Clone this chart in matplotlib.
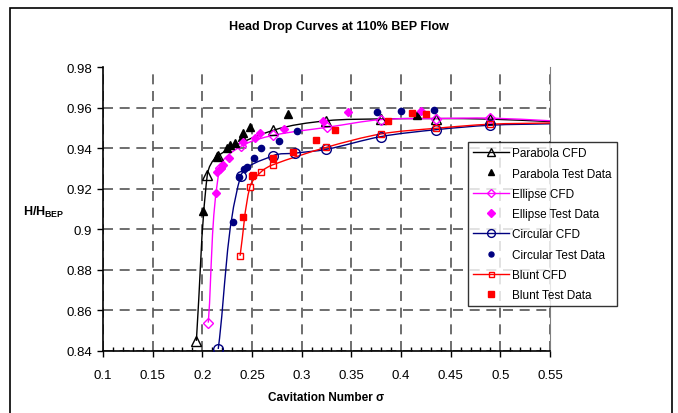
import matplotlib
matplotlib.use("Agg")
import matplotlib.pyplot as plt
from matplotlib.path import Path
from matplotlib.patches import PathPatch, Rectangle
from matplotlib.lines import Line2D
from matplotlib.ticker import MultipleLocator

plt.rcParams['font.family'] = ['Liberation Sans', 'DejaVu Sans']
plt.rcParams['mathtext.fontset'] = 'custom'
plt.rcParams['mathtext.rm'] = 'Liberation Sans'
plt.rcParams['mathtext.bf'] = 'Liberation Sans:bold'

# CFD curves (last point only carries the line to the axis edge)
parabola_cfd_x = [0.194, 0.205, 0.216, 0.2715, 0.325, 0.380, 0.4355, 0.490, 0.55]
parabola_cfd_y = [0.845, 0.927, 0.9365, 0.949, 0.9537, 0.9546, 0.9548, 0.9545, 0.9533]
ellipse_cfd_x = [0.206, 0.2175, 0.2385, 0.2715, 0.326, 0.380, 0.4355, 0.490, 0.55]
ellipse_cfd_y = [0.854, 0.9305, 0.941, 0.9465, 0.9505, 0.9543, 0.9548, 0.9550, 0.9537]
circular_cfd_x = [0.216, 0.2385, 0.2715, 0.293, 0.325, 0.380, 0.4355, 0.490, 0.55]
circular_cfd_y = [0.841, 0.9262, 0.9365, 0.9377, 0.9396, 0.9459, 0.9493, 0.9515, 0.9522]
blunt_cfd_x = [0.238, 0.248, 0.2595, 0.2707, 0.325, 0.380, 0.4356, 0.490, 0.55]
blunt_cfd_y = [0.887, 0.9212, 0.9286, 0.9319, 0.9406, 0.9472, 0.950, 0.952, 0.9526]

# test data
parabola_test_x = [0.201, 0.215, 0.2244, 0.228, 0.233, 0.2398, 0.241, 0.248, 0.2865, 0.416]
parabola_test_y = [0.909, 0.9365, 0.940, 0.9417, 0.9425, 0.9458, 0.9476, 0.9505, 0.957, 0.9566]
ellipse_test_x = [0.214, 0.215, 0.2185, 0.2205, 0.2267, 0.2405, 0.253, 0.258, 0.2825, 0.321, 0.3467, 0.4205]
ellipse_test_y = [0.918, 0.9285, 0.9305, 0.932, 0.9355, 0.943, 0.945, 0.9475, 0.9494, 0.9537, 0.958, 0.9585]
circular_test_x = [0.2305, 0.237, 0.242, 0.2445, 0.252, 0.2586, 0.2775, 0.2955, 0.3755, 0.3995, 0.433]
circular_test_y = [0.9036, 0.926, 0.930, 0.931, 0.9355, 0.9403, 0.9436, 0.9488, 0.9582, 0.9587, 0.9592]
blunt_test_x = [0.2405, 0.2495, 0.2515, 0.2713, 0.2915, 0.314, 0.334, 0.387, 0.411, 0.4255]
blunt_test_y = [0.906, 0.9266, 0.927, 0.9352, 0.9385, 0.9442, 0.9492, 0.9535, 0.9575, 0.957]

# pixel size of one data unit, used only to weigh the smoothing tangents
SX = 447 / 0.45
SY = 283.5 / 0.14


def smooth_path(x, y):
    # Bezier smoothing through the points, tangents weighted by chord length
    pts = list(zip(x, y))
    n = len(pts)

    def dist(a, b):
        return (((b[0] - a[0]) * SX) ** 2 + ((b[1] - a[1]) * SY) ** 2) ** 0.5

    verts = [pts[0]]
    codes = [Path.MOVETO]
    for i in range(n - 1):
        p0 = pts[i - 1] if i > 0 else pts[i]
        p1 = pts[i]
        p2 = pts[i + 1]
        p3 = pts[i + 2] if i + 2 < n else pts[i + 1]
        d01, d12, d23 = dist(p0, p1), dist(p1, p2), dist(p2, p3)
        k1 = d12 / (d01 + d12) / 3 if d01 + d12 > 0 else 0
        k2 = d12 / (d12 + d23) / 3 if d12 + d23 > 0 else 0
        c1 = (p1[0] + (p2[0] - p0[0]) * k1, p1[1] + (p2[1] - p0[1]) * k1)
        c2 = (p2[0] - (p3[0] - p1[0]) * k2, p2[1] - (p3[1] - p1[1]) * k2)
        verts += [c1, c2, p2]
        codes += [Path.CURVE4] * 3
    return Path(verts, codes)


fig = plt.figure(figsize=(6.78, 4.14), dpi=100)
ax = fig.add_axes([103 / 678, 1 - 352 / 414, 447 / 678, 283.5 / 414])

series = [
    ("Parabola", "black", "^", 7, 5.5, parabola_cfd_x, parabola_cfd_y, parabola_test_x, parabola_test_y),
    ("Ellipse", "#ff00ff", "D", 5.5, 4.5, ellipse_cfd_x, ellipse_cfd_y, ellipse_test_x, ellipse_test_y),
    ("Circular", "#000080", "o", 7, 4.5, circular_cfd_x, circular_cfd_y, circular_test_x, circular_test_y),
    ("Blunt", "red", "s", 4.5, 5, blunt_cfd_x, blunt_cfd_y, blunt_test_x, blunt_test_y),
]

handles = []
for name, col, mk, ms_cfd, ms_test, cx, cy, tx, ty in series:
    ax.add_patch(PathPatch(smooth_path(cx, cy), facecolor="none", edgecolor=col, lw=1, zorder=3))
    ax.plot(cx[:-1], cy[:-1], linestyle="none", marker=mk, ms=ms_cfd, mfc="none", mec=col, mew=1, zorder=4)
    ax.plot(tx, ty, linestyle="none", marker=mk, ms=ms_test, color=col, zorder=5)
    handles.append(Line2D([], [], color=col, lw=1, marker=mk, ms=ms_cfd * 0.8, mfc="none", mec=col, label=name + " CFD"))
    handles.append(Line2D([], [], linestyle="none", marker=mk, ms=ms_test * 0.8, color=col, label=name + " Test Data"))

ax.set_xlim(0.1, 0.55)
ax.set_ylim(0.84, 0.98)
ax.xaxis.set_minor_locator(MultipleLocator(0.01))
ax.set_xticks([0.1, 0.15, 0.2, 0.25, 0.3, 0.35, 0.4, 0.45, 0.5, 0.55])
ax.set_xticklabels(["0.1", "0.15", "0.2", "0.25", "0.3", "0.35", "0.4", "0.45", "0.5", "0.55"])
ax.set_yticks([0.84, 0.86, 0.88, 0.9, 0.92, 0.94, 0.96, 0.98])
ax.set_yticklabels(["0.84", "0.86", "0.88", "0.9", "0.92", "0.94", "0.96", "0.98"])
ax.tick_params(axis="both", which="major", labelsize=9.5, length=4, width=1, colors="black")
ax.tick_params(axis="x", which="major", direction="out", pad=9)
ax.tick_params(axis="y", which="major", direction="out", pad=4)
ax.tick_params(axis="x", which="minor", direction="in", length=3, width=1)

ax.grid(True, which="major", color="#555555", linestyle=(0, (6, 4)), linewidth=1.2, zorder=1)
ax.set_axisbelow(True)
ax.spines["top"].set_visible(False)
ax.spines["right"].set_color("#808080")
ax.spines["left"].set_linewidth(1.2)
ax.spines["bottom"].set_linewidth(1.2)

ax.set_xlabel("Cavitation Number σ", fontsize=8.5, fontweight="bold", labelpad=7)
fig.text(23 / 678, 1 - 212 / 414, r"$\mathbf{H/H_{BEP}}$", fontsize=9, va="center", ha="left")
fig.text(0.5, 1 - 27 / 414, "Head Drop Curves at 110% BEP Flow", fontsize=9, fontweight="bold",
         ha="center", va="center")

leg = ax.legend(handles=handles, loc="upper left", bbox_to_anchor=(468 / 678, 1 - 143 / 414),
                bbox_transform=fig.transFigure, fontsize=8.5, frameon=True, fancybox=False,
                edgecolor="black", handlelength=3.0, handletextpad=0.3, labelspacing=0.7,
                borderpad=0.45, borderaxespad=0)
leg.get_frame().set_linewidth(1)
leg.set_zorder(10)

fig.patches.append(Rectangle((10 / 678, -0.01), 662 / 678, 1.01 - 9 / 414, transform=fig.transFigure,
                             fill=False, edgecolor="black", lw=1.2))

fig.savefig("out.png", dpi=100)
